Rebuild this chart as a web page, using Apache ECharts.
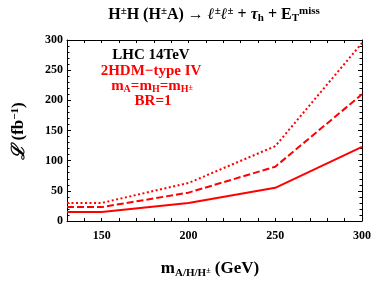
<!DOCTYPE html>
<html><head><meta charset="utf-8">
<script src="https://cdn.jsdelivr.net/npm/echarts@6/dist/echarts.min.js"></script>
<style>html,body{margin:0;padding:0;background:#fff}#c{width:374px;height:288px}</style>
</head><body><div id="c"></div>
<script>
const masses = [130, 150, 200, 250, 300];
const solidLum = [15, 15, 30, 55, 123];
const dashedLum = [23, 23, 47, 90, 210];
const dottedLum = [30, 30, 63, 124, 295];
const xTickStep = 10;
const xLabelStep = 50;
const yLabelStep = 50;

const FONT = "'Liberation Serif','Times New Roman',serif";
const RED = '#ff0000';
const chart = echarts.init(document.getElementById('c'), null, {renderer:'canvas'});

function xAx(pos, showLabel) {
  return {type:'value', position:pos, min:130, max:300, interval:xTickStep,
    axisLine:{show:true, onZero:false, lineStyle:{color:'#000', width:1}},
    axisTick:{show:true, inside:true, length:3, lineStyle:{color:'#000', width:1}},
    axisLabel:{show:showLabel, showMinLabel:true, showMaxLabel:true, margin:9, fontFamily:FONT, fontWeight:'bold', fontSize:12, color:'#000',
      formatter:v => (v % xLabelStep === 0 ? String(v) : '')},
    splitLine:{show:false}};
}
function yAx(pos, showLabel) {
  return {type:'value', position:pos, min:0, max:300, interval:yLabelStep,
    axisLine:{show:true, onZero:false, lineStyle:{color:'#000', width:1}},
    axisTick:{show:true, inside:true, length:4, lineStyle:{color:'#000', width:1}},
    minorTick:{show:true, splitNumber:5, length:2.5, lineStyle:{color:'#000', width:1}},
    axisLabel:{show:showLabel, showMinLabel:true, showMaxLabel:true, margin:4, fontFamily:FONT, fontWeight:'bold', fontSize:12, color:'#000'},
    splitLine:{show:false}, minorSplitLine:{show:false}};
}

function mk(vals, dash) {
  return {type:'line', xAxisIndex:0, yAxisIndex:0, data:masses.map((m,i)=>[m, vals[i]]),
    showSymbol:false, symbol:'none', lineStyle:{color:RED, width:2, type:dash}, silent:true, animation:false};
}

const bold = {fontFamily:FONT, fontWeight:'bold'};
chart.setOption({
  animation:false,
  grid:{left:67, right:11, top:40, bottom:67, containLabel:false},
  xAxis: [xAx('bottom', true), xAx('top', false)],
  yAxis: [yAx('left', true), yAx('right', false)],
  series:[mk(solidLum,'solid'), mk(dashedLum,[7,3]), mk(dottedLum,[2,2.5])],
  graphic:[
    {type:'text', x:214, y:15, style:{
      text:'{n|H}{sp|±}{n|H (H}{sp|±}{n|A) → }{i|ℓ}{sp|±}{i|ℓ}{sp|±}{n| + }{i|τ}{sb|h}{n| + E}{sb|T}{sp|miss}',
      align:'center', verticalAlign:'middle',
      rich:{
        n:{...bold, fontSize:16, fill:'#000'},
        i:{fontFamily:FONT, fontStyle:'italic', fontWeight:'bold', fontSize:16, fill:'#000'},
        sp:{...bold, fontSize:11, fill:'#000', padding:[0,0,8,0]},
        sb:{...bold, fontSize:11, fill:'#000', padding:[7,0,0,0]}
      }}},
    {type:'text', x:151, y:55, style:{text:'LHC 14TeV', ...bold, fontSize:15, fill:'#000', align:'center', verticalAlign:'middle'}},
    {type:'text', x:151, y:71, style:{text:'2HDM−type IV', ...bold, fontSize:15, fill:RED, align:'center', verticalAlign:'middle'}},
    {type:'text', x:152, y:86, style:{
      text:'{n|m}{sb|A}{n|=m}{sb|H}{n|=m}{sb|H}{ssp|±}', align:'center', verticalAlign:'middle',
      rich:{
        n:{...bold, fontSize:15, fill:RED},
        sb:{...bold, fontSize:10, fill:RED, padding:[7,0,0,0]},
        ssp:{...bold, fontSize:8, fill:RED, padding:[3,0,0,0]}
      }}},
    {type:'text', x:153, y:101, style:{text:'BR=1', ...bold, fontSize:15, fill:RED, align:'center', verticalAlign:'middle'}},
    {type:'text', x:19, y:131, rotation:Math.PI/2, style:{
      text:'{s|ℒ}{n| (fb}{sp|−1}{n|)}', align:'center', verticalAlign:'middle',
      rich:{
        s:{fontFamily:FONT, fontStyle:'italic', fontWeight:'bold', fontSize:18, fill:'#000'},
        n:{...bold, fontSize:17, fill:'#000'},
        sp:{...bold, fontSize:11, fill:'#000', padding:[0,0,8,0]}
      }}},
    {type:'text', x:210, y:269, style:{
      text:'{n|m}{sb|A/H/H}{ssb|±}{n| (GeV)}', align:'center', verticalAlign:'middle',
      rich:{
        n:{...bold, fontSize:17, fill:'#000'},
        sb:{...bold, fontSize:11, fill:'#000', padding:[8,0,0,0]},
        ssb:{...bold, fontSize:8, fill:'#000', padding:[4,0,0,0]}
      }}}
  ]
});
</script></body></html>
